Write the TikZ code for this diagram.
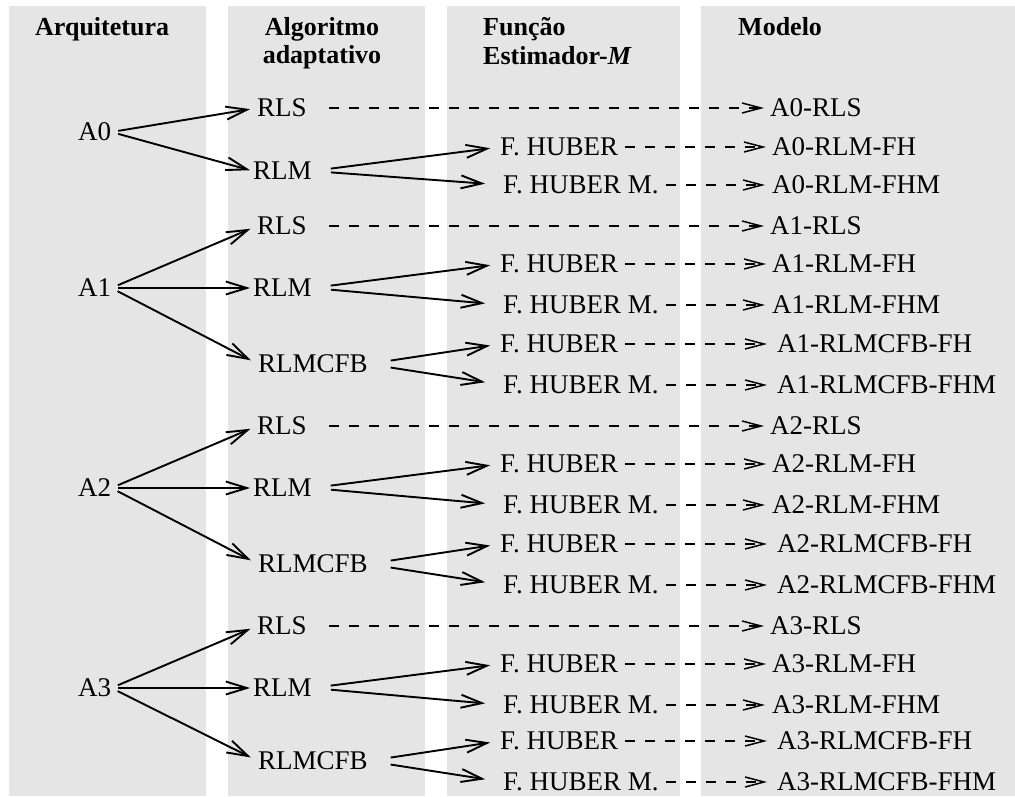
\documentclass[tikz,border=0pt]{standalone}
\usepackage{fontspec}
\setmainfont{Liberation Serif}
\usetikzlibrary{arrows.meta}
\definecolor{colbg}{RGB}{229,229,229}
\begin{document}
\begin{tikzpicture}[x=1pt,y=-1pt,
  lbl/.style={anchor=west, inner sep=0pt, text height=17.5pt, text depth=0pt, font=\fontsize{27}{31}\selectfont},
  hdr/.style={anchor=base west, inner sep=0pt, font=\fontsize{26}{30}\selectfont\bfseries},
  hdrc/.style={anchor=base, inner sep=0pt, font=\fontsize{26}{30}\selectfont\bfseries},
  sol/.style={line width=1.9pt, -{Straight Barb[length=21pt,width=13pt,line width=1.9pt]}},
  dsh/.style={line width=1.5pt, dash pattern=on 10pt off 10pt, -{Straight Barb[length=19pt,width=10pt,line width=1.5pt]}},
]
\useasboundingbox (0,0) rectangle (1015,796);
\fill[white] (0,0) rectangle (1015,796);
\fill[colbg] (9,6) rectangle (206,796);
\fill[colbg] (228,6) rectangle (425,796);
\fill[colbg] (447,6) rectangle (680,796);
\fill[colbg] (701,6) rectangle (1015,796);

% headers
\node[hdr] (h1) at (35,35) {Arquitetura};
\node[hdrc] (h2a) at (322,35) {Algoritmo};
\node[hdrc] (h2b) at (322,63) {adaptativo};
\node[hdr] (h3a) at (483,35) {Função};
\node[hdr] (h3b) at (483,64) {Estimador-\textit{M}};
\node[hdr] (h4) at (738,35) {Modelo};

% block A0
\node[lbl] (A0) at (78,132) {A0};
\node[lbl] (S0) at (257,108) {RLS};
\node[lbl] (R0) at (253,171) {RLM};
\node[lbl] (Fa0) at (500,147) {F. HUBER};
\node[lbl] (Fb0) at (503,185) {F. HUBER M.};
\node[lbl] (Ms0) at (770,108) {A0-RLS};
\node[lbl] (Ma0) at (772,147) {A0-RLM-FH};
\node[lbl] (Mb0) at (772,185) {A0-RLM-FHM};
\draw[sol, shorten <=7pt, shorten >=7pt] (A0.east) -- (S0.west);
\draw[sol, shorten <=7pt, shorten >=3pt] (A0.east) -- (R0.west);
\draw[sol, shorten <=19pt, shorten >=10pt] (R0.east) -- (Fa0.west);
\draw[sol, shorten <=19pt, shorten >=18pt] (R0.east) -- (Fb0.west);
\draw[dsh, shorten <=22pt, shorten >=6pt] (S0.east) -- (Ms0.west);
\draw[dsh, shorten <=7pt, shorten >=6pt] (Fa0.east) -- (Ma0.west);
\draw[dsh, shorten <=7pt, shorten >=7pt] (Fb0.east) -- (Mb0.west);

% blocks A1..A3
\foreach \k/\d/\e in {1/0/0,2/200/0,3/400/-3}{
  \node[lbl] (A\k) at (78,288+\d) {A\k};
  \node[lbl] (S\k) at (257,226+\d) {RLS};
  \node[lbl] (R\k) at (253,288+\d) {RLM};
  \node[lbl] (C\k) at (258,364+\d+\e) {RLMCFB};
  \node[lbl] (Fa\k) at (500,264+\d) {F. HUBER};
  \node[lbl] (Fb\k) at (503,305+\d) {F. HUBER M.};
  \node[lbl] (Fc\k) at (500,344+\d+\e) {F. HUBER};
  \node[lbl] (Fd\k) at (503,385+\d+\e) {F. HUBER M.};
  \node[lbl] (Ms\k) at (770,226+\d) {A\k-RLS};
  \node[lbl] (Ma\k) at (772,264+\d) {A\k-RLM-FH};
  \node[lbl] (Mb\k) at (772,305+\d) {A\k-RLM-FHM};
  \node[lbl] (Mc\k) at (777,344+\d+\e) {A\k-RLMCFB-FH};
  \node[lbl] (Md\k) at (777,385+\d+\e) {A\k-RLMCFB-FHM};
  \draw[sol, shorten <=7pt, shorten >=7pt] (A\k.east) -- (S\k.west);
  \draw[sol, shorten <=7pt, shorten >=3pt] (A\k.east) -- (R\k.west);
  \draw[sol, shorten <=7pt, shorten >=8pt] (A\k.east) -- (C\k.west);
  \draw[sol, shorten <=19pt, shorten >=10pt] (R\k.east) -- (Fa\k.west);
  \draw[sol, shorten <=19pt, shorten >=18pt] (R\k.east) -- (Fb\k.west);
  \draw[sol, shorten <=23pt, shorten >=10pt] (C\k.east) -- (Fc\k.west);
  \draw[sol, shorten <=23pt, shorten >=18pt] (C\k.east) -- (Fd\k.west);
  \draw[dsh, shorten <=22pt, shorten >=6pt] (S\k.east) -- (Ms\k.west);
  \draw[dsh, shorten <=7pt, shorten >=6pt] (Fa\k.east) -- (Ma\k.west);
  \draw[dsh, shorten <=7pt, shorten >=7pt] (Fb\k.east) -- (Mb\k.west);
  \draw[dsh, shorten <=7pt, shorten >=10pt] (Fc\k.east) -- (Mc\k.west);
  \draw[dsh, shorten <=7pt, shorten >=10pt] (Fd\k.east) -- (Md\k.west);
}
\end{tikzpicture}
\end{document}
